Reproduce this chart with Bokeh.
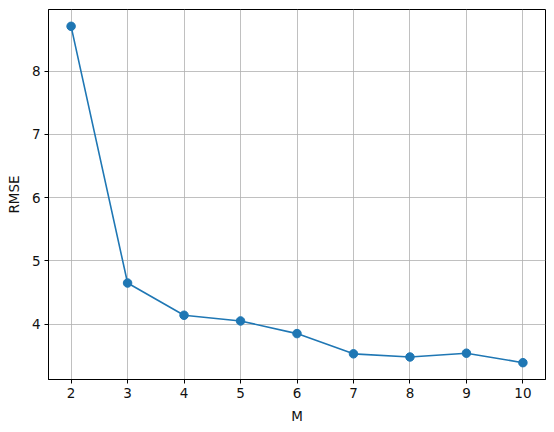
from bokeh.plotting import figure
from bokeh.models import Range1d, FixedTicker
from bokeh.embed import file_html
from bokeh.resources import INLINE

M = [2, 3, 4, 5, 6, 7, 8, 9, 10]
RMSE = [8.71, 4.65, 4.14, 4.05, 3.85, 3.53, 3.48, 3.54, 3.39]
x_ticks = [2, 3, 4, 5, 6, 7, 8, 9, 10]
y_ticks = [4, 5, 6, 7, 8]

p = figure(width=538, height=418, output_backend="svg", toolbar_location=None,
           x_range=Range1d(1.6, 10.4), y_range=Range1d(3.124, 8.976),
           min_border_left=48, min_border_right=2, min_border_top=9, min_border_bottom=44)
p.frame_width = 497
p.frame_height = 370
p.background_fill_color = "white"
p.border_fill_color = "white"
p.outline_line_color = "black"
p.outline_line_alpha = 1
p.outline_line_width = 1

p.line(M, RMSE, line_color="#1f77b4", line_width=1.6)
p.scatter(M, RMSE, size=8.5, fill_color="#1f77b4", line_color="#1f77b4")

for ax, ticks in ((p.xaxis[0], x_ticks), (p.yaxis[0], y_ticks)):
    ax.ticker = FixedTicker(ticks=ticks)
    ax.minor_tick_line_color = None
    ax.major_tick_in = 0
    ax.major_tick_out = 4
    ax.major_tick_line_color = "black"
    ax.axis_line_color = "black"
    ax.major_label_text_font = "DejaVu Sans"
    ax.major_label_text_font_size = "13.5px"
    ax.major_label_text_color = "#111111"
    ax.axis_label_text_font = "DejaVu Sans"
    ax.axis_label_text_font_size = "13.5px"
    ax.axis_label_text_font_style = "normal"
    ax.axis_label_text_color = "#111111"
    ax.major_label_standoff = 4
    ax.axis_label_standoff = 7

p.xaxis.axis_label = "M"
p.yaxis.axis_label = "RMSE"

p.xgrid.ticker = FixedTicker(ticks=x_ticks)
p.ygrid.ticker = FixedTicker(ticks=y_ticks)
for g in (p.xgrid[0], p.ygrid[0]):
    g.grid_line_color = "#b0b0b0"
    g.grid_line_width = 0.8
    g.grid_line_alpha = 1

open("out.html", "w").write(file_html(p, INLINE))
